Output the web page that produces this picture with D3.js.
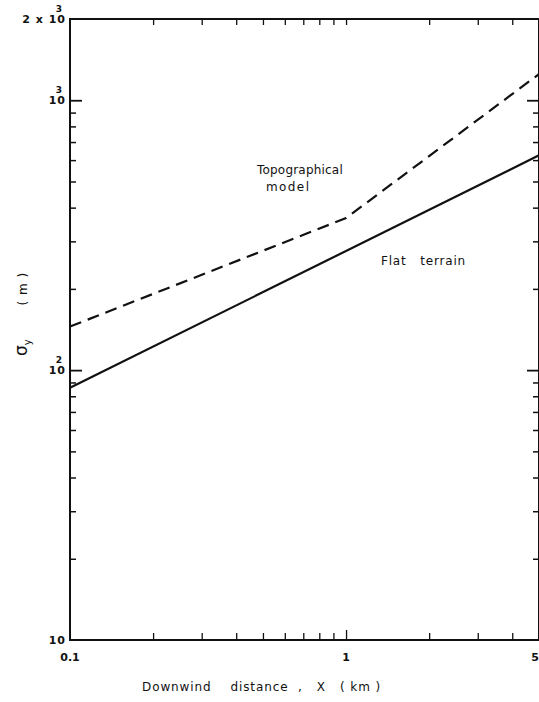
<!DOCTYPE html>
<html><head><meta charset="utf-8">
<script src="https://cdn.jsdelivr.net/npm/d3@7"></script>
<style>
html,body{margin:0;padding:0;background:#fff;}
svg{display:block;}
text{font-family:"DejaVu Sans",sans-serif;fill:#111;}
</style></head>
<body>
<script>
// Data
const flatX = [0.1, 5];
const flatY = [86, 625];
const topoX = [0.1, 1.0, 5];
const topoY = [145, 366, 1250];
const xTickLabels = ["0.1", "1", "5"];
const xTickValues = [0.1, 1, 5];
const xMinor = [0.2,0.3,0.4,0.5,0.6,0.7,0.8,0.9,1,2,3,4];
const yMajor = [100, 1000];
const yMinor = [20,30,40,50,60,70,80,90,200,300,400,500,600,700,800,900];

(function(){
const W = 539, H = 702;
const m = {left:70, right:0, top:19, bottom:62};
const svg = d3.select("body").append("svg").attr("width", W).attr("height", H);

const x = d3.scaleLog().domain([0.1, 5]).range([m.left, W - m.right]);
const y = d3.scaleLog().domain([10, 2000]).range([H - m.bottom, m.top]);

const ink = "#111";
// frame
svg.append("rect").attr("x", x(0.1)).attr("y", y(2000))
  .attr("width", x(5) - x(0.1)).attr("height", y(10) - y(2000))
  .attr("fill","none").attr("stroke", ink).attr("stroke-width", 2);

// bottom ticks (pointing up)
const gBot = svg.append("g").attr("transform", `translate(0,${y(10)})`)
  .call(d3.axisTop(x).tickValues(xMinor).tickSize(7).tickFormat(""));
gBot.selectAll(".domain").remove();
gBot.selectAll("line").attr("stroke", ink).attr("stroke-width", 1.3)
  .filter(d => d === 1).attr("y2", -10);
// top ticks (pointing down)
const gTop = svg.append("g").attr("transform", `translate(0,${y(2000)})`)
  .call(d3.axisBottom(x).tickValues(xMinor).tickSize(6).tickFormat(""));
gTop.selectAll(".domain").remove();
gTop.selectAll("line").attr("stroke", ink).attr("stroke-width", 1.3);

// left ticks (pointing right)
const lf = svg.append("g").attr("transform", `translate(${x(0.1)},0)`)
  .call(d3.axisRight(y).tickValues(yMinor).tickSize(6).tickFormat(""));
lf.selectAll(".domain").remove();
lf.selectAll("line").attr("stroke", ink).attr("stroke-width", 1.5);
const lfM = svg.append("g").attr("transform", `translate(${x(0.1)},0)`)
  .call(d3.axisRight(y).tickValues(yMajor).tickSize(12).tickFormat(""));
lfM.selectAll(".domain").remove();
lfM.selectAll("line").attr("stroke", ink).attr("stroke-width", 1.8);
// right ticks (pointing left)
const rt = svg.append("g").attr("transform", `translate(${x(5)},0)`)
  .call(d3.axisLeft(y).tickValues(yMinor).tickSize(6).tickFormat(""));
rt.selectAll(".domain").remove();
rt.selectAll("line").attr("stroke", ink).attr("stroke-width", 1.5);
const rtM = svg.append("g").attr("transform", `translate(${x(5)},0)`)
  .call(d3.axisLeft(y).tickValues(yMajor).tickSize(12).tickFormat(""));
rtM.selectAll(".domain").remove();
rtM.selectAll("line").attr("stroke", ink).attr("stroke-width", 1.8);

// x tick labels
svg.selectAll("text.xt").data(xTickValues).enter().append("text")
  .attr("class","xt").attr("x", d => x(d)).attr("y", y(10) + 21)
  .attr("text-anchor", d => d === 5 ? "end" : "middle")
  .attr("font-size", 11).attr("font-weight","bold")
  .text((d,i) => xTickLabels[i]);

// y tick labels
function yLab(val, pre, exp){
  const g = svg.append("g");
  g.append("text").attr("x", x(0.1) - 4).attr("y", y(val) + 4)
    .attr("text-anchor","end").attr("font-size", 11).attr("font-weight","bold")
    .attr("letter-spacing", 1).text(pre);
  if (exp) g.append("text").attr("x", x(0.1) - 11).attr("y", y(val) - 7)
    .attr("text-anchor","middle").attr("font-size", 9).attr("font-weight","bold").text(exp);
}
yLab(2000, "2 x 10", "3");
yLab(1000, "10", "3");
yLab(100, "10", "2");
yLab(10, "10", null);

// lines
const line = d3.line().x(d => x(d[0])).y(d => y(d[1]));
svg.append("path").datum(flatX.map((v,i) => [v, flatY[i]]))
  .attr("d", line).attr("fill","none").attr("stroke", ink).attr("stroke-width", 2.2);
svg.append("path").datum(topoX.map((v,i) => [v, topoY[i]]))
  .attr("d", line).attr("fill","none").attr("stroke", ink).attr("stroke-width", 2.2)
  .attr("stroke-dasharray","12,7");

// annotations
svg.append("text").attr("x", 257).attr("y", 174).attr("font-size", 12)
  .attr("letter-spacing", 0.2).text("Topographical");
svg.append("text").attr("x", 266).attr("y", 191).attr("font-size", 12)
  .attr("letter-spacing", 1.4).text("model");
svg.append("text").attr("x", 381).attr("y", 265).attr("font-size", 12)
  .attr("letter-spacing", 0.8).attr("xml:space","preserve").text("Flat   terrain");

// axis titles
svg.append("text").attr("x", 142).attr("y", 691).attr("font-size", 12)
  .attr("letter-spacing", 0.9).attr("xml:space","preserve")
  .text("Downwind    distance  ,   X   ( km )");
const yt = svg.append("text").attr("transform","translate(27,356) rotate(-90)")
  .attr("font-size", 17).attr("xml:space","preserve");
yt.append("tspan").text("σ");
yt.append("tspan").attr("font-size", 10).attr("dy", 4).text("y");
yt.append("tspan").attr("font-size", 12).attr("dy", -4).attr("letter-spacing", 1).text("       ( m )");
})();
</script>
</body></html>
